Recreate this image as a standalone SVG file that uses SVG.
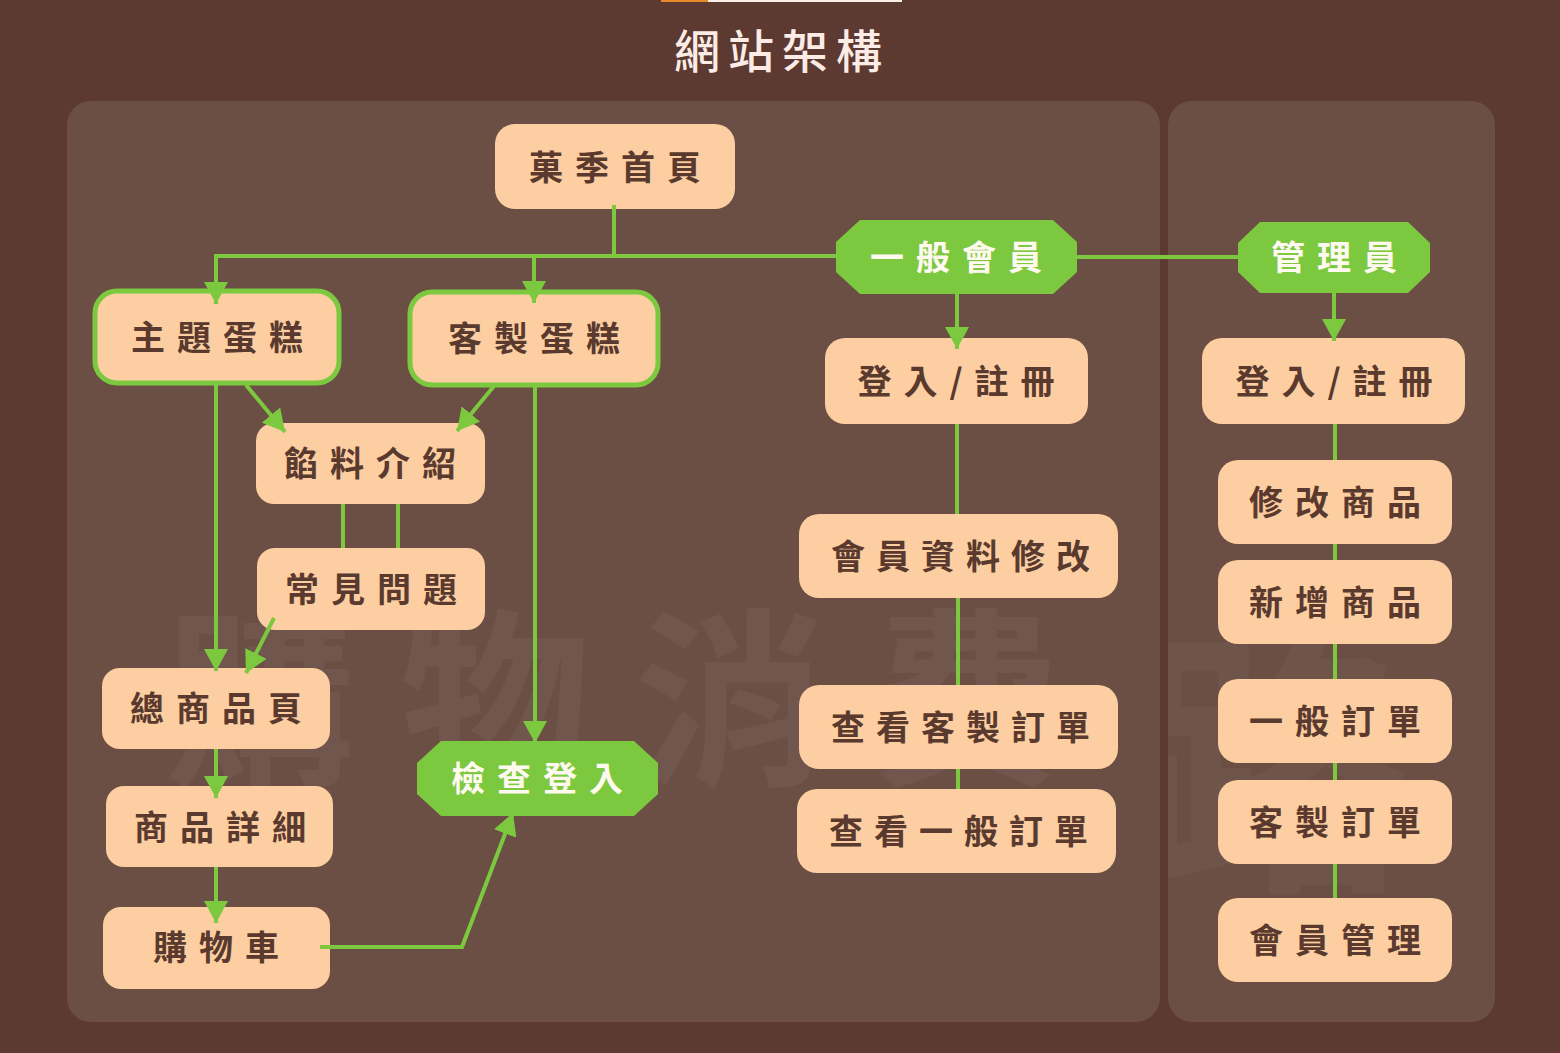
<svg xmlns="http://www.w3.org/2000/svg" width="1560" height="1053" viewBox="0 0 1560 1053">
<defs>
<style>
.bg{fill:#5C3A32}
.panel{fill:#6B4F45}
.box{fill:#FCCEA1}
.boxg{fill:#FCCEA1;stroke:#7CC940;stroke-width:5}
.oct{fill:#7CC940}
.t{font-family:"Noto Sans CJK TC","Noto Sans CJK SC",sans-serif;font-weight:700;font-size:34px;letter-spacing:12px;fill:#5A3A2E;text-anchor:middle;dominant-baseline:central;transform:translate(0px,-2px)}
.tw{fill:#FFF9F0}
.title{font-family:"Noto Sans CJK TC","Noto Sans CJK SC",sans-serif;font-weight:500;font-size:46px;letter-spacing:8px;fill:#FDEBE6;text-anchor:middle}
.wm{font-family:"Noto Sans CJK TC","Noto Sans CJK SC",sans-serif;font-weight:700;fill:#FFFFFF;fill-opacity:0.045;text-anchor:middle}
.c{fill:none;stroke:#7CC940;stroke-width:4}
.a{marker-end:url(#arr)}
</style>
<marker id="arr" viewBox="0 0 22 24" refX="22" refY="12" markerWidth="22" markerHeight="24" markerUnits="userSpaceOnUse" orient="auto">
<path d="M0,0 L22,12 L0,24 z" fill="#7CC940"/>
</marker>
<clipPath id="rp"><rect x="1168" y="101" width="327" height="921" rx="22"/></clipPath>
</defs>
<rect class="bg" x="0" y="0" width="1560" height="1053"/>
<rect x="661" y="0" width="47" height="2" fill="#E8892A"/>
<rect x="708" y="0" width="194" height="2" fill="#FBEFE8"/>
<text class="title" x="782" y="68">網站架構</text>
<rect class="panel" x="67" y="101" width="1093" height="921" rx="24"/>
<rect class="panel" x="1168" y="101" width="327" height="921" rx="24"/>
<g id="watermark">
<text class="wm" font-size="190" x="260" y="770">購</text>
<text class="wm" font-size="190" x="495" y="770">物</text>
<text class="wm" font-size="190" x="730" y="770">消</text>
<text class="wm" font-size="190" x="965" y="770">費</text>
<text class="wm" font-size="280" x="1270" y="870" clip-path="url(#rp)" style="fill-opacity:0.03">路</text>
</g>
<g id="nodes">
<g id="n-home"><rect class="box" x="495" y="124" width="240" height="85" rx="20"/><text class="t" x="621" y="167">菓季首頁</text></g>
<g id="n-theme"><rect class="boxg" x="95" y="291" width="244" height="92" rx="22"/><text class="t" x="223" y="337">主題蛋糕</text></g>
<g id="n-custom"><rect class="boxg" x="410" y="292" width="248" height="93" rx="22"/><text class="t" x="540" y="338">客製蛋糕</text></g>
<g id="n-filling"><rect class="box" x="256" y="423" width="229" height="81" rx="18"/><text class="t" x="376" y="463">餡料介紹</text></g>
<g id="n-faq"><rect class="box" x="257" y="548" width="228" height="82" rx="18"/><text class="t" x="377" y="589">常見問題</text></g>
<g id="n-all"><rect class="box" x="102" y="668" width="228" height="81" rx="18"/><text class="t" x="222" y="708">總商品頁</text></g>
<g id="n-detail"><rect class="box" x="106" y="786" width="227" height="81" rx="18"/><text class="t" x="226" y="827">商品詳細</text></g>
<g id="n-cart"><rect class="box" x="103" y="907" width="227" height="82" rx="18"/><text class="t" x="222" y="947">購物車</text></g>
<g id="n-check"><polygon class="oct" points="441,741 634,741 658,763 658,794 634,816 441,816 417,794 417,763"/><text class="t tw" x="543" y="778">檢查登入</text></g>
<g id="n-member"><polygon class="oct" points="860,220 1053,220 1077,242 1077,272 1053,294 860,294 836,272 836,242"/><text class="t tw" x="962" y="257">一般會員</text></g>
<g id="n-admin"><polygon class="oct" points="1260,222 1408,222 1430,243 1430,272 1408,293 1260,293 1238,272 1238,243"/><text class="t tw" x="1340" y="257">管理員</text></g>
<g id="n-login1"><rect class="box" x="825" y="338" width="263" height="86" rx="20"/><text class="t" x="962" y="381">登入/註冊</text></g>
<g id="n-profile"><rect class="box" x="799" y="514" width="319" height="84" rx="20"/><text class="t" x="966" y="556" style="letter-spacing:11px">會員資料修改</text></g>
<g id="n-vcustom"><rect class="box" x="799" y="685" width="319" height="84" rx="20"/><text class="t" x="966" y="727" style="letter-spacing:11px">查看客製訂單</text></g>
<g id="n-vnormal"><rect class="box" x="797" y="789" width="319" height="84" rx="20"/><text class="t" x="964" y="831" style="letter-spacing:11px">查看一般訂單</text></g>
<g id="n-login2"><rect class="box" x="1202" y="338" width="263" height="86" rx="20"/><text class="t" x="1340" y="381">登入/註冊</text></g>
<g id="n-edit"><rect class="box" x="1218" y="460" width="234" height="84" rx="20"/><text class="t" x="1341" y="502">修改商品</text></g>
<g id="n-add"><rect class="box" x="1218" y="560" width="234" height="84" rx="20"/><text class="t" x="1341" y="602">新增商品</text></g>
<g id="n-normal"><rect class="box" x="1218" y="679" width="234" height="84" rx="20"/><text class="t" x="1341" y="721">一般訂單</text></g>
<g id="n-corder"><rect class="box" x="1218" y="780" width="234" height="84" rx="20"/><text class="t" x="1341" y="822">客製訂單</text></g>
<g id="n-mgmt"><rect class="box" x="1218" y="898" width="234" height="84" rx="20"/><text class="t" x="1341" y="940">會員管理</text></g>
</g>
<g id="connectors">
<path class="c" d="M614,205 V256 M216,256 H836 M1077,257 H1238"/>
<path class="c a" d="M216,254 V304"/>
<path class="c a" d="M534,254 V303"/>
<path class="c a" d="M957,294 V349"/>
<path class="c a" d="M1334,293 V341"/>
<path class="c a" d="M246,385 L285,432"/>
<path class="c a" d="M494,386 L457,431"/>
<path class="c a" d="M216,383 V671"/>
<path class="c a" d="M535,385 V743"/>
<path class="c" d="M343,504 V548 M398,504 V548"/>
<path class="c a" d="M274,618 L246,673"/>
<path class="c a" d="M216,749 V798"/>
<path class="c a" d="M216,867 V923"/>
<path class="c a" d="M320,947 H462 L513,813"/>
<path class="c" d="M957,424 V514 M958,598 V685 M958,769 V789"/>
<path class="c" d="M1335,424 V460 M1335,544 V560 M1335,644 V679 M1335,763 V780 M1335,864 V898"/>
</g>
</svg>
